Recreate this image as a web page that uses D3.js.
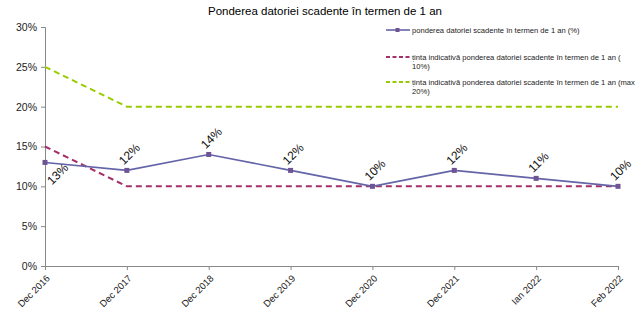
<!DOCTYPE html>
<html><head><meta charset="utf-8">
<script src="https://cdn.jsdelivr.net/npm/d3@7"></script>
<style>body{margin:0;background:#fff}svg{font-family:"Liberation Sans",Arial,sans-serif}</style>
</head><body><svg id="c" width="643" height="314"></svg>
<script>
const categories = ["Dec 2016","Dec 2017","Dec 2018","Dec 2019","Dec 2020","Dec 2021","Ian 2022","Feb 2022"];
const actual = [13,12,14,12,10,12,11,10];
const target10 = [15,10,10,10,10,10,10,10];
const target20 = [25,20,20,20,20,20,20,20];
const yTicks = [0,5,10,15,20,25,30];
const legendLabels = [
  ["ponderea datoriei scadente în termen de 1 an (%)"],
  ["ținta indicativă ponderea datoriei scadente în termen de 1 an (","10%)"],
  ["ținta indicativă ponderea datoriei scadente în termen de 1 an (max","20%)"]
];
const title = "Ponderea datoriei scadente în termen de 1 an";

const svg = d3.select("#c");
const x = d3.scalePoint().domain(categories).range([45,618]);
const y = d3.scaleLinear().domain([0,30]).range([266,27]);

svg.append("text").attr("x",325).attr("y",15).attr("text-anchor","middle")
  .attr("font-size",11.5).attr("fill","#000").text(title);

const yAxis = svg.append("g").attr("transform","translate(45,0)")
  .call(d3.axisLeft(y).tickValues(yTicks).tickFormat(d=>d+"%").tickSize(4).tickPadding(4));
yAxis.select(".domain").attr("stroke","#888");
yAxis.selectAll(".tick line").attr("stroke","#888");
yAxis.selectAll("text").attr("font-size",10.5).attr("fill","#222").attr("font-family","Liberation Sans, Arial, sans-serif");

const xAxis = svg.append("g").attr("transform","translate(0,266)")
  .call(d3.axisBottom(x).tickSize(4).tickSizeOuter(0));
xAxis.select(".domain").attr("stroke","#888");
xAxis.selectAll(".tick line").attr("stroke","#888");
xAxis.selectAll("text").attr("font-size",9.5).attr("fill","#222")
  .attr("font-family","Liberation Sans, Arial, sans-serif")
  .attr("text-anchor","end").attr("dy",null).attr("y",0)
  .attr("transform","translate(5,13) rotate(-45)");

const line = d3.line().x((d,i)=>x(categories[i])).y(d=>y(d));
svg.append("path").datum(target20).attr("d",line).attr("fill","none")
  .attr("stroke","#99cc00").attr("stroke-width",2).attr("stroke-dasharray","6,4");
svg.append("path").datum(target10).attr("d",line).attr("fill","none")
  .attr("stroke","#a3306a").attr("stroke-width",2).attr("stroke-dasharray","6,4");
svg.append("path").datum(actual).attr("d",line).attr("fill","none")
  .attr("stroke","#6464a8").attr("stroke-width",1.6);
svg.selectAll("rect.m").data(actual).enter().append("rect").attr("class","m")
  .attr("x",(d,i)=>x(categories[i])-2.5).attr("y",d=>y(d)-2.5)
  .attr("width",5).attr("height",5).attr("fill","#6e5494");

svg.selectAll("text.lbl").data(actual).enter().append("text").attr("class","lbl")
  .attr("font-size",12).attr("fill","#111")
  .attr("transform",(d,i)=>{
    const px=x(categories[i]), py=y(d);
    return i===0 ? `translate(${px+7},${py+23}) rotate(-45)` : `translate(${px-3},${py-5}) rotate(-45)`;
  })
  .text(d=>d+"%");

// legend
const lg = svg.append("g");
const lys = [30,57,82];
const styles = [
  {c:"#6464a8",dash:null,w:1.6,m:true},
  {c:"#a3306a",dash:"4,2.5",w:1.8},
  {c:"#99cc00",dash:"4,2.5",w:1.8}
];
legendLabels.forEach((lines,k)=>{
  const ly=lys[k], s=styles[k];
  lg.append("line").attr("x1",386).attr("x2",410).attr("y1",ly).attr("y2",ly)
    .attr("stroke",s.c).attr("stroke-width",s.w).attr("stroke-dasharray",s.dash);
  if(s.m) lg.append("rect").attr("x",395.5).attr("y",ly-2).attr("width",4).attr("height",4).attr("fill","#6e5494");
  lines.forEach((t,j)=>{
    lg.append("text").attr("x",412).attr("y",ly+3+j*9).attr("font-size",7.6).attr("fill","#222").text(t);
  });
});
</script></body></html>
